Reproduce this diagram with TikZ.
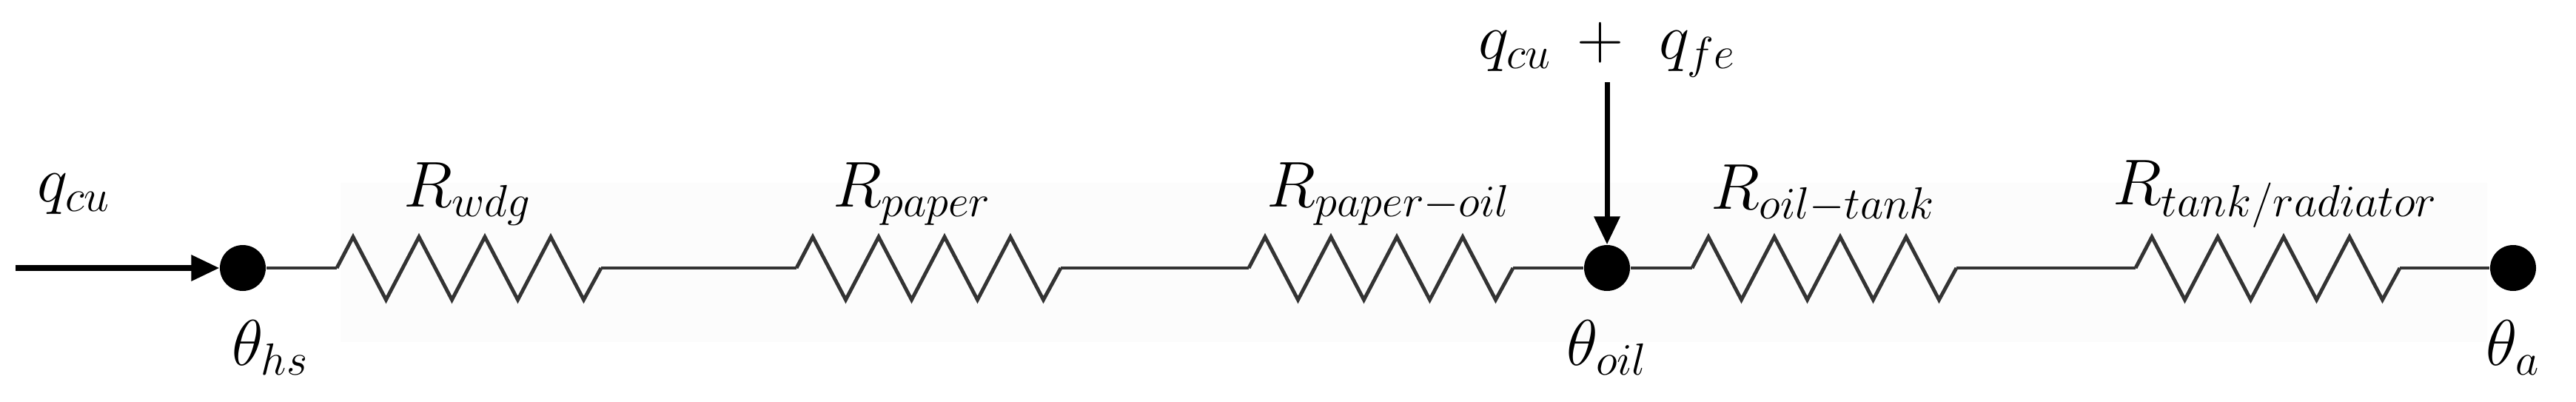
\documentclass[tikz,border=0pt]{standalone}
\usetikzlibrary{arrows.meta}
\tikzset{
  wire/.style={line width=1.4pt, draw=black!80},
  dotnode/.style={circle, fill=black, inner sep=0pt, minimum size=0.62cm},
  lbl/.style={font=\fontsize{24}{28}\selectfont, inner sep=0pt},
  flow/.style={line width=2pt, -{Triangle[length=0.38cm,width=0.34cm]}},
}
\newcommand{\zz}[2]{%
  \draw[wire, line join=miter] (#1) -- ++(0.22,0.42) -- ++(0.445,-0.85) -- ++(0.445,0.85) -- ++(0.445,-0.85) -- ++(0.445,0.85) -- ++(0.445,-0.85) -- ++(0.445,0.85) -- ++(0.445,-0.85) -- (#2);}
\begin{document}
\begin{tikzpicture}[x=1cm,y=1cm]
\useasboundingbox (0,0) rectangle (34.8,5.42);
\fill[black!1] (4.6,0.8) rectangle (33.6,2.95);
\def\ly{1.80}
\node[dotnode] (hs) at (3.28,\ly) {};
\node[dotnode] (oil) at (21.71,\ly) {};
\node[dotnode] (a) at (33.95,\ly) {};
\coordinate (r1a) at (4.55,\ly); \coordinate (r1b) at (8.12,\ly);
\coordinate (r2a) at (10.76,\ly); \coordinate (r2b) at (14.33,\ly);
\coordinate (r3a) at (16.87,\ly); \coordinate (r3b) at (20.44,\ly);
\coordinate (r4a) at (22.86,\ly); \coordinate (r4b) at (26.43,\ly);
\coordinate (r5a) at (28.85,\ly); \coordinate (r5b) at (32.42,\ly);
\draw[wire] (hs) -- (r1a); \zz{r1a}{r1b}
\draw[wire] (r1b) -- (r2a); \zz{r2a}{r2b}
\draw[wire] (r2b) -- (r3a); \zz{r3a}{r3b}
\draw[wire] (r3b) -- (oil); \draw[wire] (oil) -- (r4a); \zz{r4a}{r4b}
\draw[wire] (r4b) -- (r5a); \zz{r5a}{r5b}
\draw[wire] (r5b) -- (a);
\coordinate (qin) at (0.21,\ly);
\draw[flow] (qin) -- (hs.west);
\coordinate (qtop) at (21.71,4.31);
\draw[flow] (qtop) -- (oil.north);
\node[lbl] (lq) at (1.0,2.8) {$q_{cu}$};
\node[lbl] (l1) at (6.32,2.8) {$R_{wdg}$};
\node[lbl] (l2) at (12.32,2.8) {$R_{paper}$};
\node[lbl] (l3) at (18.76,2.8) {$R_{paper-oil}$};
\node[lbl] (l4) at (24.63,2.8) {$R_{oil-tank}$};
\node[lbl] (l5) at (30.74,2.8) {$R_{tank/radiator}$};
\node[lbl] (lq2) at (21.71,4.75) {$q_{cu}\,+\,\,q_{fe}$};
\node[lbl] (t1) at (3.65,0.72) {$\theta_{hs}$};
\node[lbl] (t2) at (21.71,0.72) {$\theta_{oil}$};
\node[lbl] (t3) at (33.95,0.72) {$\theta_{a}$};
\end{tikzpicture}
\end{document}
